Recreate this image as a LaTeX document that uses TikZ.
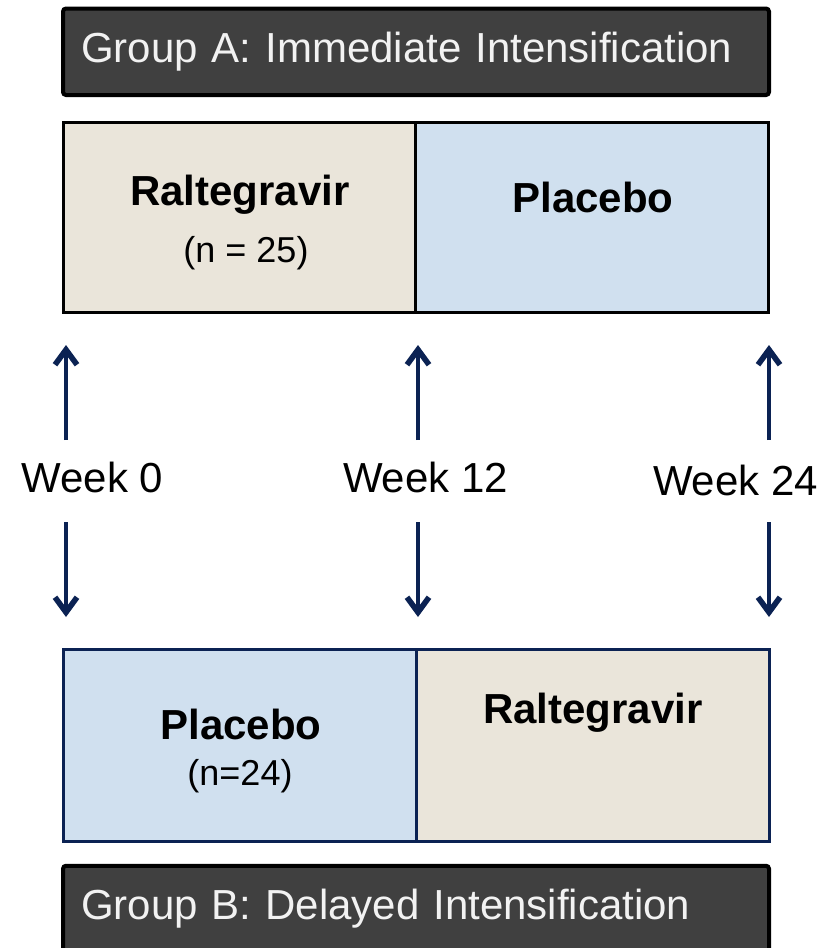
\documentclass[tikz,border=0pt]{standalone}
\usepackage{fontspec}
\setmainfont{Liberation Sans}
\usepackage{tikz}
\usetikzlibrary{arrows.meta}
\definecolor{hdrgray}{HTML}{404040}
\definecolor{hdrtext}{HTML}{F2F2F2}
\definecolor{tan}{HTML}{EAE5DA}
\definecolor{paleblue}{HTML}{D0E0EF}
\definecolor{navy}{HTML}{0B2253}
\tikzset{
	hdrbox/.style  = {draw=black, line width=2pt, fill=hdrgray, rounded corners=1.5pt,
		minimum width=353pt, minimum height=43.25pt, inner xsep=9pt, inner ysep=0pt,
		text width=335pt, align=left, text=hdrtext, font=\fontsize{21}{25}\selectfont},
	armbox/.style  = {line width=1.5pt, minimum width=176.5pt, inner sep=0pt},
	drugname/.style = {anchor=base, font=\bfseries\fontsize{21}{25}\selectfont},
	count/.style   = {anchor=base, font=\fontsize{18}{22}\selectfont},
	week/.style    = {anchor=base, font=\fontsize{21}{25}\selectfont},
	wkarrow/.style = {draw=navy, line width=2.3pt,
		-{Straight Barb[length=7.5pt, width=11pt, line width=2.8pt]}}
}
\newcommand{\ral}{Raltegravir}
\newcommand{\plc}{Placebo}

\begin{document}
\begin{tikzpicture}[x=0.5pt, y=-0.5pt]
	\useasboundingbox (0,0) rectangle (833,948);
	\clip (0,0) rectangle (833,948);
	
	% group A
	\node[hdrbox] (hdrA) at (416,51.75) {Group A: Immediate Intensification};
	\node[armbox, draw=black, fill=tan, minimum height=95pt] (ralA) at (239.5,217) {};
	\node[armbox, draw=black, fill=paleblue, minimum height=95pt] (plcA) at (592.25,217) {};
	\node[drugname] (ralAname) at (240,205) {\ral};
	\node[count] (ralAn) at (246,262) {(n = 25)};
	\node[drugname] (plcAname) at (593,212) {\plc};
	
	% group B
	\node[armbox, draw=navy, fill=paleblue, minimum height=96pt] (plcB) at (239.5,745) {};
	\node[armbox, draw=navy, fill=tan, minimum height=96pt] (ralB) at (592.75,745) {};
	\node[drugname] (plcBname) at (241,739) {\plc};
	\node[count] (plcBn) at (240,785) {(n=24)};
	\node[drugname] (ralBname) at (593,723) {\ral};
	\node[hdrbox] (hdrB) at (416,909) {Group B: Delayed Intensification};
	
	% time points
	\node[week] (wk0) at (92.5,492) {Week 0};
	\node[week] (wk12) at (425.5,492) {Week 12};
	\node[week] (wk24) at (735.5,495) {Week 24};
	\foreach \x/\n in {66/0,418/12,769/24}{
		\coordinate (up\n) at (\x,440);
		\coordinate (top\n) at (\x,345);
		\coordinate (dn\n) at (\x,522);
		\coordinate (bot\n) at (\x,617);
		\draw[wkarrow] (up\n) -- (top\n);
		\draw[wkarrow] (dn\n) -- (bot\n);
	}
	
\end{tikzpicture}
\end{document}
